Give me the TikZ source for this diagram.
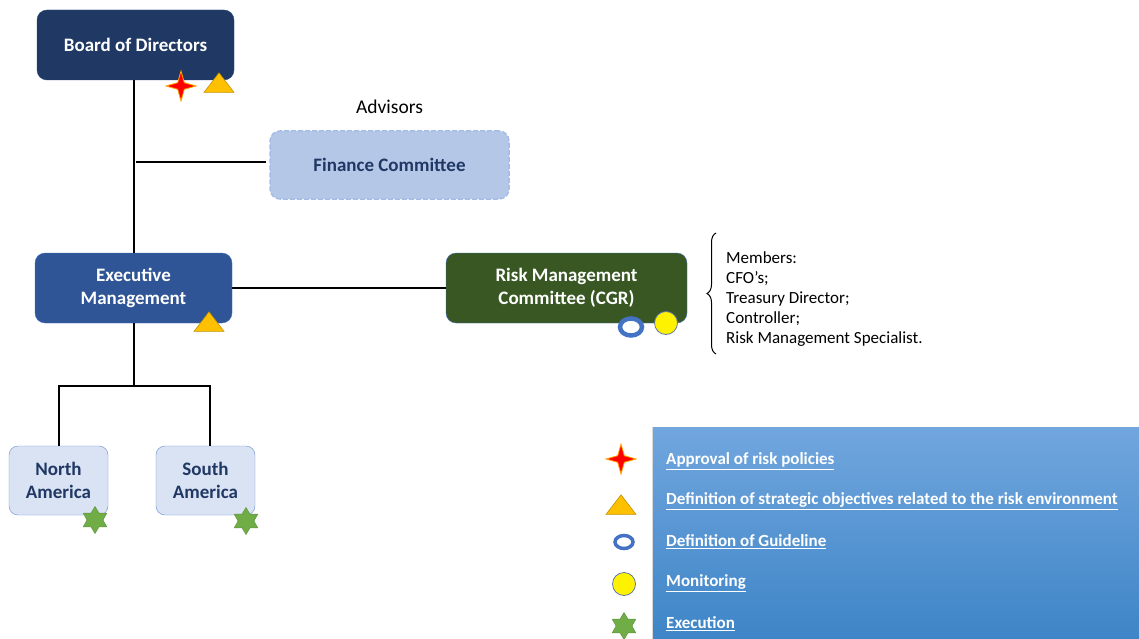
\documentclass[tikz,border=0pt]{standalone}
\usepackage{fontspec}
\setmainfont{Carlito}
\usepackage{tikz}
\usetikzlibrary{positioning,calc,shapes.geometric,decorations.pathreplacing,shadows}
\definecolor{navy}{HTML}{203864}
\definecolor{execblue}{HTML}{2F5597}
\definecolor{riskgreen}{HTML}{385723}
\definecolor{finfill}{HTML}{B4C7E7}
\definecolor{finline}{HTML}{A5BDE6}
\definecolor{regfill}{HTML}{DAE3F3}
\definecolor{accent}{HTML}{4472C4}
\definecolor{gold}{HTML}{FFC000}
\definecolor{leaf}{HTML}{70AD47}
\definecolor{legtop}{HTML}{71A6DE}
\definecolor{legbot}{HTML}{3E85C7}
\newcommand{\legul}[1]{\underline{#1}}
\tikzset{
  base/.style={align=center, font=\bfseries\fontsize{19}{23}\selectfont, rectangle, rounded corners=10pt},
  board/.style={base, fill=navy, draw=navy!80!accent, text=white, minimum width=197pt, minimum height=70pt},
  exec/.style={base, fill=execblue, draw=accent, text=white, minimum width=197pt, minimum height=70pt},
  risk/.style={base, fill=riskgreen, draw=accent, text=white, minimum width=241pt, minimum height=70pt},
  advisor/.style={base, fill=finfill, draw=finline, line width=1.5pt, dash pattern=on 5pt off 2pt, text=navy, minimum width=239pt, minimum height=68pt},
  region/.style={base, fill=regfill, draw=accent!80, text=navy, minimum width=99pt, minimum height=69pt, rounded corners=9pt},
  line/.style={draw=black, line width=2pt},
  approval/.style={star, star points=4, star point ratio=3.2, minimum size=30pt, inner sep=0pt, fill=red, draw=orange!70!yellow, line width=0.8pt},
  objective/.style={isosceles triangle, isosceles triangle apex angle=75, shape border rotate=90, minimum width=30pt, minimum height=17pt, inner sep=0pt, fill=gold, draw=gold!75!black, line width=0.6pt},
  guideline/.style={ellipse, minimum width=22pt, minimum height=17pt, inner sep=0pt, draw=accent, line width=4.5pt, fill=white},
  monitor/.style={circle, minimum size=23pt, inner sep=0pt, fill=yellow, draw=accent!60!gray, line width=0.8pt},
  execution/.style={star, star points=6, star point ratio=1.7, minimum size=27pt, inner sep=0pt, fill=leaf, draw=leaf!85!black, line width=0.5pt},
  legtext/.style={anchor=west, text=white, font=\bfseries\fontsize{17}{20}\selectfont, inner sep=0pt}
}

\begin{document}
\begin{tikzpicture}[x=1pt, y=-1pt]
  \useasboundingbox (0,0) rectangle (1139,639);

  % Nodes
  \node[board] (board) at (135.5,45) {Board of Directors};
  \node[advisor] (fin) at (389.5,165) {Finance Committee};
  \node[font=\fontsize{19.5}{23}\selectfont] (adv) at (389.5,107) {Advisors};
  \node[exec] (exec) at (133.5,288) {Executive\\Management};
  \node[risk] (risk) at (566.5,288) {Risk Management\\Committee (CGR)};
  \node[region] (north) at (58.5,480.5) {North\\America};
  \node[region] (south) at (205.5,480.5) {South\\America};

  % Members
  \node[anchor=north west, align=left, inner sep=0pt, font=\fontsize{17}{20}\selectfont] (members) at (726,251)
    {Members:\\CFO’s;\\Treasury Director;\\Controller;\\Risk Management Specialist.};
  \draw[line width=1pt, decorate, decoration={brace, amplitude=9pt}] (716,354) -- (716,233);

  % Edges
  \draw[line] (exec.north) -- (exec.north |- board.south);
  \draw[line] ($(exec.north |- fin.west)+(2,-3)$) -- ($(fin.west)+(-3,-3)$);
  \draw[line] (exec.east) -- (risk.west);
  \draw[line] (exec.south) -- ++(0,63) coordinate (split);
  \draw[line] (north.north) |- (split) -| ([xshift=4.5pt]south.north);

  % Markers
  \node[approval] (b1) at (181,86) {};
  \node[objective] (b2) at (219,85) {};
  \node[objective] (e1) at (209,324) {};
  \node[guideline] (r1) at (631,327) {};
  \node[monitor] (r2) at (666,323) {};
  \node[execution] (n1) at (95,520) {};
  \node[execution] (s1) at (246,521) {};

  % Legend
  \shade[top color=legtop, bottom color=legbot, drop shadow={shadow xshift=-1.5pt, shadow yshift=0pt, opacity=0.3}] (653,427) rectangle (1139,639);
  \node[legtext] (l1) at (666,461) {\legul{Approval of risk policies}};
  \node[legtext] (l2) at (666,501) {\legul{Definition of strategic objectives related to the risk environment}};
  \node[legtext] (l3) at (666,542) {\legul{Definition of Guideline}};
  \node[legtext] (l4) at (666,583) {\legul{Monitoring}};
  \node[legtext] (l5) at (666,624) {\legul{Execution}};
  \node[approval] (k1) at (621,459) {};
  \node[objective] (k2) at (621,507) {};
  \node[guideline, minimum width=18pt, minimum height=13pt, line width=3.5pt] (k3) at (624,542) {};
  \node[monitor] (k4) at (624,584) {};
  \node[execution] (k5) at (624,626) {};
\end{tikzpicture}
\end{document}
